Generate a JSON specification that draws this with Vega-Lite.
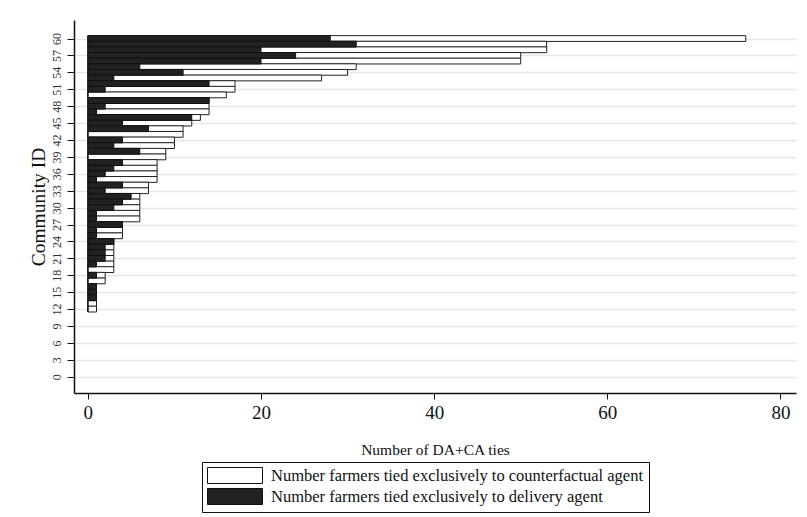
{
  "$schema": "https://vega.github.io/schema/vega-lite/v6.json",
  "width": 722,
  "height": 373,
  "autosize": {"type": "none"},
  "padding": {"left": 74, "top": 20, "right": 11, "bottom": 124},
  "background": "white",
  "config": {
    "view": {"stroke": null},
    "font": "Liberation Serif",
    "axis": {"labelFont": "Liberation Serif", "titleFont": "Liberation Serif", "labelColor": "#111", "titleColor": "#111", "domainColor": "#111", "tickColor": "#111", "titleFontWeight": "normal"}
  },
  "data": {
    "values": [
      {"id": 60, "total": 76, "da": 28},
      {"id": 59, "total": 53, "da": 31},
      {"id": 58, "total": 53, "da": 20},
      {"id": 57, "total": 50, "da": 24},
      {"id": 56, "total": 50, "da": 20},
      {"id": 55, "total": 31, "da": 6},
      {"id": 54, "total": 30, "da": 11},
      {"id": 53, "total": 27, "da": 3},
      {"id": 52, "total": 17, "da": 14},
      {"id": 51, "total": 17, "da": 2},
      {"id": 50, "total": 16, "da": 0},
      {"id": 49, "total": 14, "da": 14},
      {"id": 48, "total": 14, "da": 2},
      {"id": 47, "total": 14, "da": 1},
      {"id": 46, "total": 13, "da": 12},
      {"id": 45, "total": 12, "da": 4},
      {"id": 44, "total": 11, "da": 7},
      {"id": 43, "total": 11, "da": 0},
      {"id": 42, "total": 10, "da": 4},
      {"id": 41, "total": 10, "da": 3},
      {"id": 40, "total": 9, "da": 6},
      {"id": 39, "total": 9, "da": 0},
      {"id": 38, "total": 8, "da": 4},
      {"id": 37, "total": 8, "da": 3},
      {"id": 36, "total": 8, "da": 2},
      {"id": 35, "total": 8, "da": 1},
      {"id": 34, "total": 7, "da": 4},
      {"id": 33, "total": 7, "da": 2},
      {"id": 32, "total": 6, "da": 5},
      {"id": 31, "total": 6, "da": 4},
      {"id": 30, "total": 6, "da": 3},
      {"id": 29, "total": 6, "da": 1},
      {"id": 28, "total": 6, "da": 1},
      {"id": 27, "total": 4, "da": 4},
      {"id": 26, "total": 4, "da": 1},
      {"id": 25, "total": 4, "da": 1},
      {"id": 24, "total": 3, "da": 3},
      {"id": 23, "total": 3, "da": 2},
      {"id": 22, "total": 3, "da": 2},
      {"id": 21, "total": 3, "da": 2},
      {"id": 20, "total": 3, "da": 1},
      {"id": 19, "total": 3, "da": 0},
      {"id": 18, "total": 2, "da": 1},
      {"id": 17, "total": 2, "da": 0},
      {"id": 16, "total": 1, "da": 1},
      {"id": 15, "total": 1, "da": 1},
      {"id": 14, "total": 1, "da": 1},
      {"id": 13, "total": 1, "da": 0},
      {"id": 12, "total": 1, "da": 0}
    ]
  },
  "encoding": {
    "y": {
      "field": "id", "type": "quantitative",
      "scale": {"domain": [-2, 62.4], "nice": false, "zero": false},
      "axis": {
        "values": [0, 3, 6, 9, 12, 15, 18, 21, 24, 27, 30, 33, 36, 39, 42, 45, 48, 51, 54, 57, 60],
        "title": "Community ID", "titleFontSize": 19.5, "titlePadding": 2,
        "labelAngle": -90, "labelFontSize": 12, "labelPadding": 4, "labelColor": "#333",
        "tickSize": 7, "domainWidth": 1.5, "tickWidth": 1,
        "grid": true, "gridColor": "#e6e6e6", "gridWidth": 1.5
      }
    }
  },
  "layer": [
    {
      "mark": {"type": "bar", "orient": "horizontal", "size": 5.8, "stroke": "#222", "strokeWidth": 1},
      "encoding": {
        "x": {
          "field": "total", "type": "quantitative",
          "scale": {"domain": [-1.6, 81.8], "nice": false, "zero": false},
          "axis": {
            "values": [0, 20, 40, 60, 80], "title": "Number of DA+CA ties",
            "titleFontSize": 15.5, "titlePadding": 20, "labelFontSize": 19,
            "labelPadding": 4, "tickSize": 6, "domainWidth": 1.5, "tickWidth": 1, "grid": false
          }
        },
        "x2": {"datum": 0},
        "color": {
          "datum": "Number farmers tied exclusively to counterfactual agent",
          "type": "nominal",
          "scale": {
            "domain": ["Number farmers tied exclusively to counterfactual agent", "Number farmers tied exclusively to delivery agent"],
            "range": ["#ffffff", "#222222"]
          },
          "legend": {
            "orient": "none", "legendX": 128, "legendY": 442, "title": null,
            "strokeColor": "#111", "padding": 5, "rowPadding": 0,
            "symbolType": "M-1,-1H5.875V1H-1Z", "symbolSize": 256,
            "symbolStrokeColor": "#111", "symbolStrokeWidth": 1, "symbolOpacity": 1,
            "labelFont": "Liberation Serif", "labelFontSize": 16.5, "labelColor": "#111",
            "labelOffset": 47, "labelLimit": 500
          }
        }
      }
    },
    {
      "mark": {"type": "bar", "orient": "horizontal", "size": 5.8, "stroke": "#111", "strokeWidth": 1},
      "encoding": {
        "x": {"field": "da", "type": "quantitative"},
        "x2": {"datum": 0},
        "color": {"datum": "Number farmers tied exclusively to delivery agent", "type": "nominal"}
      }
    }
  ]
}
